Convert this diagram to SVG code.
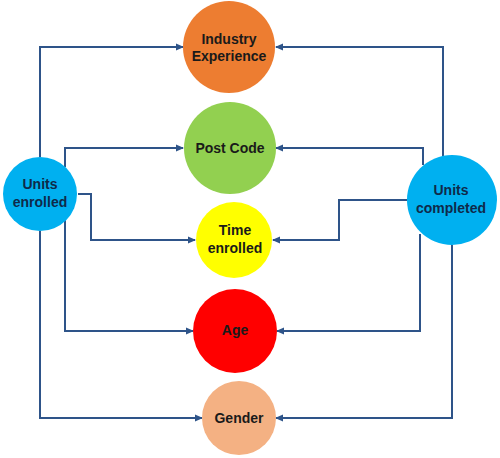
<svg xmlns="http://www.w3.org/2000/svg" width="500" height="458" viewBox="0 0 500 458">
<defs>
<marker id="ah" markerWidth="8" markerHeight="8" refX="7" refY="4" orient="auto" markerUnits="userSpaceOnUse">
<path d="M0,0.5 L8,4 L0,7.5 Z" fill="#2E5489"/>
</marker>
<style>
.c{fill:none;stroke:#2E5489;stroke-width:2;marker-end:url(#ah)}
.t{font-family:"Liberation Sans",Arial,sans-serif;font-weight:bold;font-size:14px;text-anchor:middle;fill:#1a1a1a}
.u{fill:#0F2A4A}
</style>
</defs>
<rect width="500" height="458" fill="#ffffff"/>
<g id="connectors">
<path class="c" d="M40,157 V47 H183"/>
<path class="c" d="M65,167 V148 H183"/>
<path class="c" d="M78,194 H91 V240 H195"/>
<path class="c" d="M65,220 V331 H193"/>
<path class="c" d="M40,231 V418 H202"/>
<path class="c" d="M443,156 V47 H276"/>
<path class="c" d="M423,165 V148 H276"/>
<path class="c" d="M407,200 H339 V240 H273"/>
<path class="c" d="M420,234 V331 H277"/>
<path class="c" d="M452,245 V418 H276"/>
</g>
<g id="industry">
<circle cx="229" cy="47" r="46" fill="#ED7D31"/>
<text class="t" x="229" y="44">Industry</text>
<text class="t" x="229" y="61">Experience</text>
</g>
<g id="postcode">
<circle cx="230" cy="148" r="46" fill="#92D050"/>
<text class="t" x="230" y="153">Post Code</text>
</g>
<g id="time">
<circle cx="234" cy="240" r="38" fill="#FFFF00"/>
<text class="t" x="235" y="235">Time</text>
<text class="t" x="235" y="253">enrolled</text>
</g>
<g id="age">
<circle cx="235" cy="331" r="42" fill="#FF0000"/>
<text class="t" x="235" y="335">Age</text>
</g>
<g id="gender">
<circle cx="239" cy="418" r="37" fill="#F4B183"/>
<text class="t" x="239" y="423">Gender</text>
</g>
<g id="enrolled">
<circle cx="40" cy="194" r="37" fill="#00B0F0"/>
<text class="t u" x="40" y="189">Units</text>
<text class="t u" x="40" y="207">enrolled</text>
</g>
<g id="completed">
<circle cx="452" cy="200" r="45" fill="#00B0F0"/>
<text class="t u" x="451" y="195">Units</text>
<text class="t u" x="451" y="213">completed</text>
</g>
</svg>
